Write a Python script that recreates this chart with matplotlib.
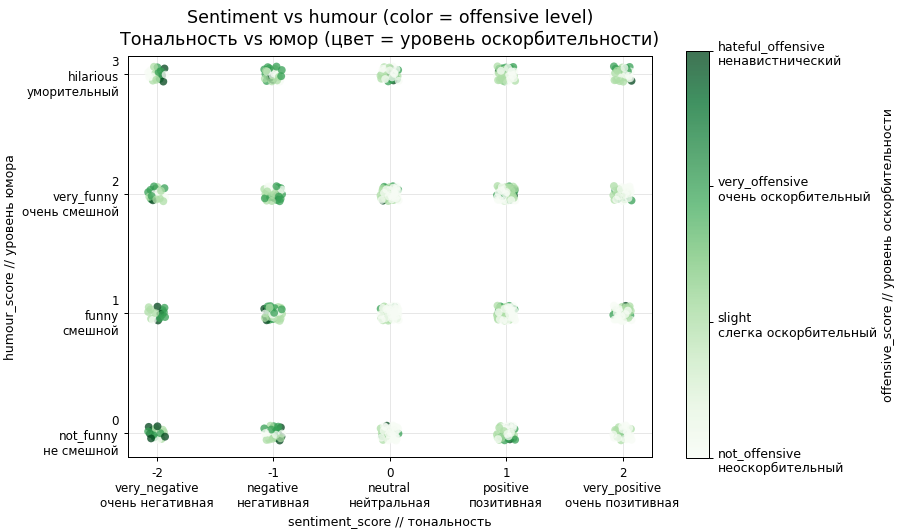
import matplotlib
matplotlib.use("Agg")
import matplotlib.pyplot as plt

# Category labels
sentiment_vals = [-2, -1, 0, 1, 2]
sentiment_labels = ["-2\nvery_negative\nочень негативная", "-1\nnegative\nнегативная",
                    "0\nneutral\nнейтральная", "1\npositive\nпозитивная",
                    "2\nvery_positive\nочень позитивная"]
humour_vals = [0, 1, 2, 3]
humour_labels = ["0\nnot_funny\nне смешной", "1\nfunny\nсмешной",
                 "2\nvery_funny\nочень смешной", "3\nhilarious\nуморительный"]
offensive_labels = ["not_offensive\nнеоскорбительный", "slight\nслегка оскорбительный",
                    "very_offensive\nочень оскорбительный", "hateful_offensive\nненавистнический"]

# Counts of memes per offensive level [0, 1, 2, 3] for each (sentiment, humour) cell
counts_sent_m2 = {0: [3, 4, 5, 5], 1: [4, 5, 6, 3], 2: [5, 7, 6, 2], 3: [5, 4, 4, 3]}
counts_sent_m1 = {0: [9, 8, 8, 4], 1: [9, 10, 10, 5], 2: [9, 10, 10, 4], 3: [8, 9, 9, 4]}
counts_sent_0 = {0: [20, 8, 3, 1], 1: [28, 14, 5, 0], 2: [24, 15, 7, 1], 3: [14, 9, 6, 3]}
counts_sent_p1 = {0: [15, 12, 9, 4], 1: [26, 18, 7, 1], 2: [22, 18, 12, 4], 3: [18, 15, 9, 3]}
counts_sent_p2 = {0: [14, 7, 2, 0], 1: [18, 12, 5, 1], 2: [16, 10, 5, 1], 3: [12, 12, 8, 1]}
counts = {-2: counts_sent_m2, -1: counts_sent_m1, 0: counts_sent_0,
          1: counts_sent_p1, 2: counts_sent_p2}


def halton(i, base):
    f, r = 1.0, 0.0
    while i > 0:
        f /= base
        r += f * (i % base)
        i //= base
    return r


# Expand the counts into points with a deterministic jitter
xs, ys, cs = [], [], []
for s in sentiment_vals:
    for h in humour_vals:
        remaining = list(counts[s][h])
        order = []
        while sum(remaining) > 0:
            for lvl in (0, 2, 1, 3):
                if remaining[lvl] > 0:
                    order.append(lvl)
                    remaining[lvl] -= 1
        for k, lvl in enumerate(order):
            idx = k + 1 + 11 * (s + 2) + 5 * h
            xs.append(s + (halton(idx, 2) - 0.5) * 0.16)
            ys.append(h + (halton(idx, 3) - 0.5) * 0.13)
            cs.append(lvl)

fig = plt.figure(figsize=(10, 5.9222), dpi=90)
ax = fig.add_axes([0.142, 0.141, 0.582, 0.752])
cax = fig.add_axes([0.762, 0.139, 0.0256, 0.764])

sc = ax.scatter(xs, ys, c=cs, cmap="Greens", vmin=0, vmax=3, s=40,
                alpha=0.75, edgecolors="none")

ax.set_xlim(-2.25, 2.25)
ax.set_ylim(-0.2, 3.15)
ax.set_xticks(sentiment_vals)
ax.set_xticklabels(sentiment_labels, fontsize=9.5)
ax.set_yticks(humour_vals)
ax.set_yticklabels(humour_labels, fontsize=9.5, ha="right")
ax.grid(True, alpha=0.3)
ax.set_axisbelow(True)
ax.set_xlabel("sentiment_score // тональность", fontsize=10)
ax.set_ylabel("humour_score // уровень юмора", fontsize=10)
ax.set_title("Sentiment vs humour (color = offensive level)\n"
             "Тональность vs юмор (цвет = уровень оскорбительности)", fontsize=14, pad=10)

cb = fig.colorbar(sc, cax=cax, ticks=[0, 1, 2, 3])
cb.ax.set_yticklabels(offensive_labels, fontsize=10)
cb.set_label("offensive_score // уровень оскорбительности", fontsize=10)

fig.savefig("out.png", dpi=90)
